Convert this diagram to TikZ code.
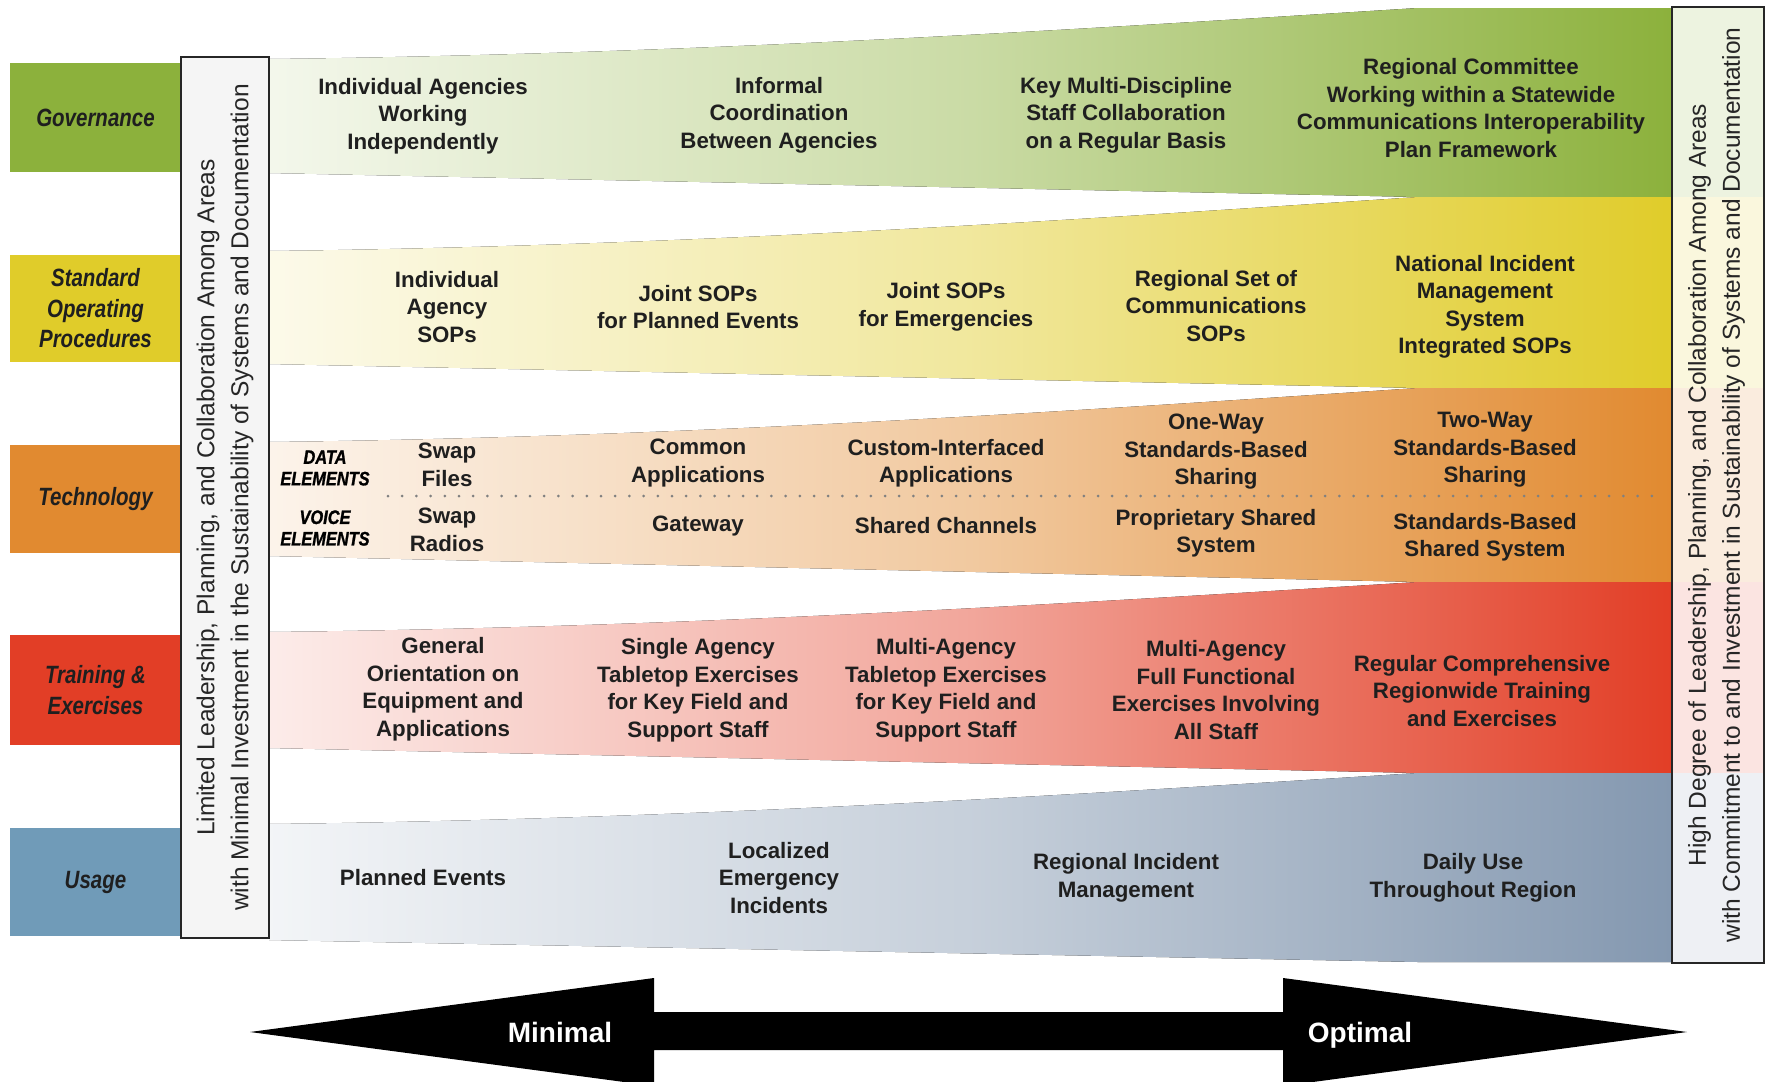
\documentclass[tikz,border=0pt]{standalone}
\usepackage{fontspec}
\setmainfont{Liberation Sans}
\newfontfamily\labfont[FakeStretch=0.82]{Liberation Sans}
\newfontfamily\heavyfont[FakeStretch=0.84,FakeBold=1.2]{Liberation Sans}
\definecolor{gov}{RGB}{140,177,60}
\definecolor{sop}{RGB}{224,204,42}
\definecolor{tech}{RGB}{225,138,48}
\definecolor{train}{RGB}{226,62,38}
\definecolor{usage}{RGB}{132,152,176}
\definecolor{usagebox}{RGB}{112,155,184}
\newcommand{\drawband}[5]{%
  \pgfmathsetmacro\cya{#2+0.093*(#4-#2)}%
  \pgfmathsetmacro\cyb{#2+0.611*(#4-#2)}%
  \fill[left color=#1!10!white, right color=#1, middle color=#1!46!white]
    (269,#2) .. controls (700,\cya) and (1100,\cyb) .. (1418,#4) -- (1672,#4)
    -- (1672,#5) -- (1418,#5) -- (269,#3) -- cycle;
}
\begin{document}
\begin{tikzpicture}[x=1pt,y=-1pt,
  labbox/.style={inner sep=0pt, minimum width=171pt, font=\labfont\bfseries\itshape\fontsize{25}{30.5}\selectfont, align=center, text=black!88},
  cell/.style={inner sep=0pt, font=\bfseries\fontsize{22.3}{27.5}\selectfont, align=center, text=black!88},
  elem/.style={inner sep=0pt, font=\heavyfont\bfseries\itshape\fontsize{19.5}{21.5}\selectfont, align=center, text=black},
  vtext/.style={inner sep=0pt, rotate=90, font=\fontsize{24.5}{34}\selectfont, align=center, text=black!85},
  frame/.style={draw=black!85, line width=2pt},
  arrowtext/.style={inner sep=0pt, anchor=base, text=white, font=\bfseries\fontsize{28}{30}\selectfont}
]
\useasboundingbox (0,0) rectangle (1765,1082);
\clip (0,0) rectangle (1765,1082);
\fill[white] (0,0) rectangle (1765,1082);

% bands
\drawband{gov}{59}{173}{8}{197}
\drawband{sop}{251}{364}{197}{388}
\drawband{tech}{442}{556}{388}{582}
\drawband{train}{632}{748}{582}{773}
\drawband{usage}{824}{940}{773}{962}

% row labels
\node[labbox, fill=gov, minimum height=109pt] (lgov) at (95.5,117.5) {Governance};
\node[labbox, fill=sop, minimum height=107pt] (lsop) at (95.5,308.5) {Standard\\Operating\\Procedures};
\node[labbox, fill=tech, minimum height=108pt] (ltech) at (95.5,499) {Technology};
\node[labbox, fill=train, minimum height=110pt] (ltrain) at (95.5,690) {Training \&\\Exercises};
\node[labbox, fill=usagebox, minimum height=108pt] (lusage) at (95.5,882) {Usage};

% left vertical box
\draw[frame, fill=black!4] (181,57) rectangle (269,938);
\node[vtext] (leftnote) at (225,497.5) {Limited Leadership, Planning, and Collaboration Among Areas\\with Minimal Investment in the Sustainability of Systems and Documentation};

% right vertical box
\fill[gov!16!white] (1672,7) rectangle (1764,197);
\fill[sop!16!white] (1672,197) rectangle (1764,388);
\fill[tech!16!white] (1672,388) rectangle (1764,582);
\fill[train!14!white] (1672,582) rectangle (1764,773);
\fill[usage!14!white] (1672,773) rectangle (1764,963);
\draw[frame] (1672,7) rectangle (1764,963);
\node[vtext] (rightnote) at (1716.5,485) {High Degree of Leadership, Planning, and Collaboration Among Areas\\with Commitment to and Investment in Sustainability of Systems and Documentation};

% governance
\node[cell] (g1) at (423,116) {Individual Agencies\\Working\\Independently};
\node[cell] (g2) at (779,115) {Informal\\Coordination\\Between Agencies};
\node[cell] (g3) at (1126,115) {Key Multi-Discipline\\Staff Collaboration\\on a Regular Basis};
\node[cell] (g4) at (1471,108) {Regional Committee\\Working within a Statewide\\Communications Interoperability\\Plan Framework};

% SOPs
\node[cell] (s1) at (447,307) {Individual\\Agency\\SOPs};
\node[cell] (s2) at (698,307) {Joint SOPs\\for Planned Events};
\node[cell] (s3) at (946,307) {Joint SOPs\\for Emergencies};
\node[cell] (s4) at (1216,306) {Regional Set of\\Communications\\SOPs};
\node[cell] (s5) at (1485,307) {National Incident\\Management\\System\\Integrated SOPs};

% technology
\coordinate (dotL) at (388,496);
\coordinate (dotR) at (1663,496);
\draw[black!50, line width=3pt, line cap=round, dash pattern=on 0pt off 14.2pt] (dotL) -- (dotR);
\node[elem] (data) at (325,468) {DATA\\ELEMENTS};
\node[elem] (voice) at (325,528) {VOICE\\ELEMENTS};
\node[cell] (t1) at (447,465) {Swap\\Files};
\node[cell] (t2) at (698,463) {Common\\Applications};
\node[cell] (t3) at (946,463) {Custom-Interfaced\\Applications};
\node[cell] (t4) at (1216,452) {One-Way\\Standards-Based\\Sharing};
\node[cell] (t5) at (1485,450) {Two-Way\\Standards-Based\\Sharing};
\node[cell] (v1) at (447,530) {Swap\\Radios};
\node[cell] (v2) at (698,526) {Gateway};
\node[cell] (v3) at (946,526) {Shared Channels};
\node[cell] (v4) at (1216,533) {Proprietary Shared\\System};
\node[cell] (v5) at (1485,537) {Standards-Based\\Shared System};

% training
\node[cell] (r1) at (443,689) {General\\Orientation on\\Equipment and\\Applications};
\node[cell] (r2) at (698,690) {Single Agency\\Tabletop Exercises\\for Key Field and\\Support Staff};
\node[cell] (r3) at (946,690) {Multi-Agency\\Tabletop Exercises\\for Key Field and\\Support Staff};
\node[cell] (r4) at (1216,690) {Multi-Agency\\Full Functional\\Exercises Involving\\All Staff};
\node[cell] (r5) at (1482,691) {Regular Comprehensive\\Regionwide Training\\and Exercises};

% usage
\node[cell] (u1) at (423,878) {Planned Events};
\node[cell] (u2) at (779,878) {Localized\\Emergency\\Incidents};
\node[cell] (u3) at (1126,878) {Regional Incident\\Management};
\node[cell] (u4) at (1473,878) {Daily Use\\Throughout Region};

% bottom double arrow
\fill[black] (250,1032) -- (654,978) -- (654,1012) -- (1283,1012) -- (1283,978)
  -- (1687,1032) -- (1283,1086) -- (1283,1050) -- (654,1050) -- (654,1086) -- cycle;
\node[arrowtext] (mini) at (560,1042) {Minimal};
\node[arrowtext] (opti) at (1360,1042) {Optimal};
\end{tikzpicture}
\end{document}
